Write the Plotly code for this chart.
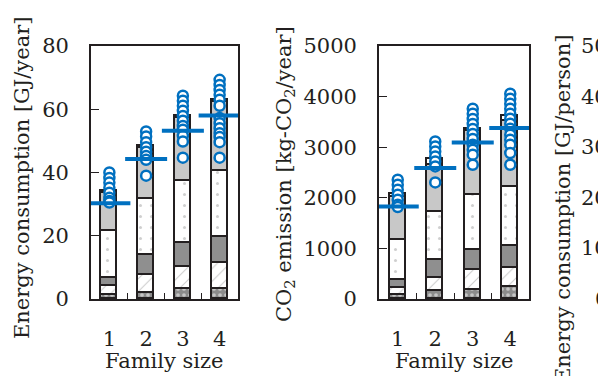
import plotly.graph_objects as go

W, H = 598, 376

family_size = ["1", "2", "3", "4"]

# Panel 1: energy consumption [GJ/year], stacked segments (bottom -> top)
e_seg1 = [1.4, 1.9, 3.3, 3.3]      # dotted dark
e_seg2 = [2.6, 5.7, 6.8, 8.1]      # diagonal hatch
e_seg3 = [2.6, 6.4, 7.6, 8.2]      # dark gray
e_seg4 = [15.0, 17.7, 19.7, 21.0]  # sparse dotted
e_seg5 = [11.9, 16.1, 19.9, 21.7]  # light gray
e_seg6 = [0.5, 0.6, 0.6, 0.6]      # small top
e_mean = [30.3, 44.3, 53.2, 58.0]
e_obs = {
    "1": [40.0, 38.3, 36.8, 35.2, 33.6, 32.0, 31.0, 30.5],
    "2": [53.0, 51.4, 49.6, 48.0, 46.6, 45.2, 44.0, 39.0],
    "3": [64.3, 62.7, 61.1, 59.5, 57.9, 56.4, 54.7, 53.5, 51.6, 49.8, 44.7],
    "4": [69.3, 67.7, 66.1, 64.6, 63.0, 61.1, 57.2, 55.6, 54.0, 52.4, 51.2, 49.6, 44.7],
}

# Panel 2: CO2 emission [kg-CO2/year]
c_seg1 = [70, 150, 184, 229]
c_seg2 = [147, 265, 395, 383]
c_seg3 = [164, 362, 395, 441]
c_seg4 = [791, 942, 1073, 1153]
c_seg5 = [836, 935, 1265, 1304]
c_seg6 = [60, 113, 50, 113]
c_mean = [1830, 2589, 3095, 3379]
c_obs = {
    "1": [2358, 2259, 2160, 2061, 1962, 1863, 1818],
    "2": [3115, 3016, 2917, 2818, 2719, 2620, 2304],
    "3": [3761, 3662, 3557, 3458, 3360, 3261, 3162, 3050, 2951, 2852, 2654],
    "4": [4057, 3958, 3860, 3761, 3662, 3563, 3464, 3366, 3248, 3149, 3050, 2885, 2654],
}

p3_ticks = ["50", "40", "30", "20", "10", "0"]

BLUE = "#0070C0"
INK = "#231f20"
FONT = "DejaVu Serif"

seg_styles = [
    dict(color="#8c8c8c", pattern=dict(shape=".", bgcolor="#8c8c8c", fgcolor="#ffffff", size=6, solidity=0.3)),
    dict(color="#ffffff", pattern=dict(shape="/", bgcolor="#ffffff", fgcolor="#9a9a9a", size=9, solidity=0.12)),
    dict(color="#8f8f8f"),
    dict(color="#ffffff", pattern=dict(shape=".", bgcolor="#ffffff", fgcolor="#a0a0a0", size=11, solidity=0.06)),
    dict(color="#c8c8c8"),
    dict(color="#ffffff"),
]

fig = go.Figure()

def add_panel(segs, mean, obs, xa, ya):
    for s, st in zip(segs, seg_styles):
        m = dict(st)
        m["line"] = dict(color=INK, width=1.6)
        fig.add_trace(go.Bar(x=family_size, y=s, marker=m, width=0.43,
                             xaxis=xa, yaxis=ya, showlegend=False))
    xs, ys = [], []
    for k in family_size:
        for v in obs[k]:
            xs.append(k)
            ys.append(v)
    fig.add_trace(go.Scatter(x=xs, y=ys, mode="markers", xaxis=xa, yaxis=ya,
                             marker=dict(symbol="circle", size=10, color="white",
                                         line=dict(color=BLUE, width=2.5)),
                             showlegend=False))
    fig.add_trace(go.Scatter(x=family_size, y=mean, mode="markers", xaxis=xa, yaxis=ya,
                             marker=dict(symbol="line-ew", size=30,
                                         line=dict(color=BLUE, width=4)),
                             showlegend=False))

add_panel([e_seg1, e_seg2, e_seg3, e_seg4, e_seg5, e_seg6], e_mean, e_obs, "x", "y")
add_panel([c_seg1, c_seg2, c_seg3, c_seg4, c_seg5, c_seg6], c_mean, c_obs, "x2", "y2")

def px(x):
    return x / W

def py(y):
    return 1 - y / H

ydom = [py(299), py(46)]
axis_common = dict(showline=True, linecolor=INK, linewidth=1.8, mirror=True,
                   showgrid=False, zeroline=False, ticks="inside", tickcolor=INK,
                   tickfont=dict(family=FONT, size=21, color=INK))

xcommon = dict(axis_common, type="category", tickson="boundaries", ticklen=6,
               tickwidth=1.2, ticklabelstandoff=20, range=[-0.5, 3.5])

fig.update_layout(
    width=W, height=H,
    margin=dict(l=0, r=0, t=0, b=0, autoexpand=False),
    paper_bgcolor="white", plot_bgcolor="white",
    barmode="stack", bargap=0,
    font=dict(family=FONT, color=INK),
    xaxis=dict(xcommon, domain=[px(91), px(238)], anchor="y"),
    yaxis=dict(axis_common, domain=ydom, range=[0, 80], tickvals=[0, 20, 40, 60, 80],
               ticklen=8, tickwidth=1.2, ticklabelstandoff=16, anchor="x"),
    xaxis2=dict(xcommon, domain=[px(379), px(529)], anchor="y2"),
    yaxis2=dict(axis_common, domain=ydom, range=[0, 5000],
                tickvals=[0, 1000, 2000, 3000, 4000, 5000],
                ticklen=8, tickwidth=1.2, ticklabelstandoff=16, anchor="x2"),
)

ann = []
ann.append(dict(text="Energy consumption [GJ/year]", x=px(22), y=py(178), textangle=-90))
ann.append(dict(text="CO<sub>2</sub> emission [kg-CO<sub>2</sub>/year]", x=px(285), y=py(174), textangle=-90))
ann.append(dict(text="Family size", x=px(164.5), y=py(361)))
ann.append(dict(text="Family size", x=px(454), y=py(361)))
ann.append(dict(text="Energy consumption [GJ/person]", x=px(563), y=py(33), textangle=-90, yanchor="top"))
for i, t in enumerate(p3_ticks):
    ann.append(dict(text=t, x=px(610), y=py(46 + i * 50.6), xanchor="right"))

for a in ann:
    a.setdefault("xanchor", "center")
    a.setdefault("yanchor", "middle")
    fig.add_annotation(xref="paper", yref="paper", showarrow=False,
                       font=dict(family=FONT, size=21, color=INK), **a)

fig.write_html("out.html",
               config={"displayModeBar": False},
               post_script="document.body.style.margin='0';document.body.style.overflow='hidden';")
